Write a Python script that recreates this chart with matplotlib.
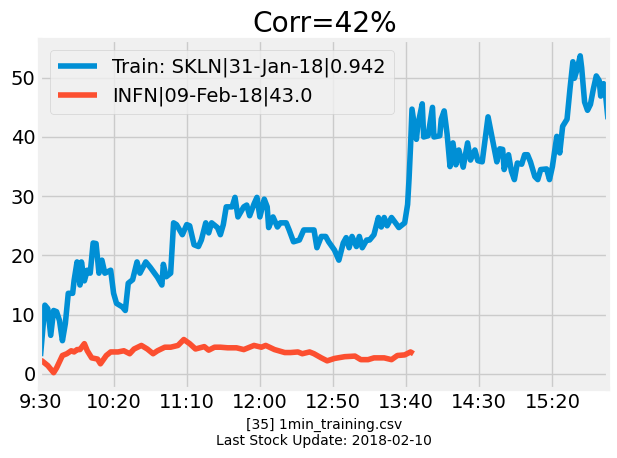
import matplotlib
matplotlib.use("Agg")
import matplotlib.pyplot as plt

# minute offsets from 9:30 and values
train_min = [0, 3, 5, 7, 9, 11, 13, 15, 17, 19, 22, 23, 25, 27, 28, 30, 32, 34,
             36, 38, 40, 42, 44, 48, 50, 52, 56, 58, 60, 63, 66, 68, 72, 75, 80,
             83, 84, 86, 89, 91, 93, 97, 100, 102, 105, 108, 110, 113, 115, 117,
             121, 123, 125, 127, 131, 133, 135, 139, 141, 143, 146, 148, 150, 153,
             155, 156, 159, 162, 164, 168, 170, 173, 177, 180, 184, 187, 189, 192,
             195, 197, 201, 204, 207, 209, 211, 213, 216, 218, 220, 223, 225, 228,
             231, 233, 235, 237, 240, 243, 245, 249, 251, 252, 253, 254, 257, 258,
             261, 262, 265, 268, 269, 273, 274, 276, 278, 280, 282, 284, 286, 289,
             292, 294, 297, 299, 302, 306, 309, 312, 314, 316, 317, 320, 322, 324,
             326, 329, 331, 333, 335, 338, 340, 342, 346, 348, 350, 353, 355, 357,
             360, 362, 364, 365, 367, 369, 370, 372, 374, 376, 378, 380, 382, 383,
             385, 386, 388]
train_val = [3, 11.6, 11, 6.5, 10.7, 10.5, 9, 5.6, 8.5, 13.6, 13.6, 15.8, 18.9, 15,
             18.9, 15.7, 17.5, 17, 22.1, 22, 17, 19.2, 17, 17.5, 13.6, 11.9, 11.3,
             10.7, 15.3, 15.9, 18.9, 17, 18.9, 18, 16.3, 15, 18.5, 16.4, 17, 25.5,
             25.2, 23.5, 25.2, 25, 21.8, 21.5, 22.6, 25.5, 23.8, 25.5, 24.7, 23.5,
             25.2, 28.2, 28.2, 29.8, 26.5, 28.2, 28.5, 26.7, 28.7, 29.8, 26.5, 29.5,
             28.2, 24.7, 26.5, 24.8, 25.5, 25.5, 24.3, 22.3, 22.6, 24.3, 24.3, 24.3,
             21.3, 23.2, 23.2, 22.3, 20.9, 19.2, 22.1, 23, 21.3, 23.2, 21.5, 23.2,
             21.3, 22.6, 22.6, 23.5, 26.4, 24.8, 26.4, 25, 26.4, 25.4, 24.7, 25.5,
             28.6, 33, 38.4, 44.7, 39.6, 42, 45.6, 40, 40.2, 45, 40, 40.2, 43, 44.4,
             40.5, 35, 39, 35.3, 37.8, 34.9, 39, 36.1, 37.8, 36, 35.8, 43.4, 39.6,
             35.8, 38, 37.9, 34.5, 37, 34.2, 32.8, 35.6, 35.4, 37, 37, 35.8, 33.3,
             32.8, 34.5, 34.6, 32.8, 35, 40.1, 37.3, 41.8, 43, 48.1, 52.7, 49.9,
             51.5, 53.7, 51.7, 45.9, 44.5, 45.5, 48.1, 50.3, 49.5, 46.9, 49, 48, 43]

test_min = [0, 1, 5, 9, 11, 15, 18, 21, 23, 25, 27, 30, 32, 35, 39, 41, 45, 48, 53,
            57, 61, 64, 69, 73, 77, 80, 85, 89, 94, 98, 102, 106, 112, 115, 119,
            123, 128, 134, 139, 146, 151, 154, 160, 167, 171, 176, 179, 184, 187,
            192, 196, 201, 208, 215, 219, 224, 228, 235, 240, 244, 249, 253, 255]
test_val = [2.0, 2.2, 1.4, 0.2, 1.0, 3.1, 3.4, 3.9, 3.7, 4.1, 4.1, 5.1, 3.9, 2.7,
            2.5, 1.7, 3.1, 3.7, 3.7, 3.9, 3.4, 4.2, 4.8, 4.2, 3.4, 3.9, 4.5, 4.5,
            4.8, 5.8, 5.1, 4.2, 4.6, 4.0, 4.5, 4.5, 4.4, 4.4, 4.1, 4.8, 4.5, 4.8,
            4.1, 3.6, 3.6, 3.7, 3.4, 3.7, 3.4, 2.7, 2.2, 2.6, 2.9, 3.0, 2.4, 2.4,
            2.7, 2.7, 2.4, 3.1, 3.2, 3.7, 3.4]

tick_pos = [0, 50, 100, 150, 200, 250, 300, 350]
tick_labels = ['9:30', '10:20', '11:10', '12:00', '12:50', '13:40', '14:30', '15:20']

plt.style.use('fivethirtyeight')
fig = plt.figure(figsize=(6.17, 4.58), dpi=100, facecolor='white')
ax = fig.add_axes([0.0656, 0.1517, 0.9198, 0.761])

# round joins so the spikes are not drawn as sharp mitres
ax.plot(train_min, train_val, label='Train: SKLN|31-Jan-18|0.942',
        solid_joinstyle='round')
ax.plot(test_min, test_val, label='INFN|09-Feb-18|43.0',
        solid_joinstyle='round')

ax.set_xlim(0, 388)
ax.set_xticks(tick_pos)
ax.set_xticklabels(tick_labels)
ax.set_title('Corr=42%')
ax.set_xlabel('[35] 1min_training.csv\nLast Stock Update: 2018-02-10', fontsize=10)
ax.legend(loc='upper left')

fig.savefig('out.png', dpi=100, facecolor='white')
